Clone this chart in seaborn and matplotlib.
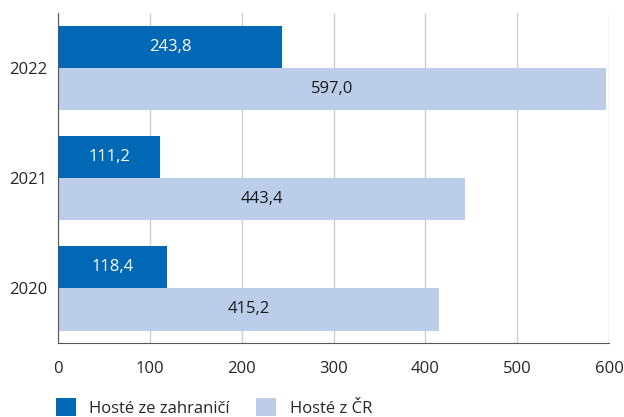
import matplotlib
matplotlib.use("Agg")
import matplotlib.pyplot as plt
import seaborn as sns
import pandas as pd

years = ["2022", "2021", "2020"]
series_names = ["Hosté ze zahraničí", "Hosté z ČR"]
foreign = [243.8, 111.2, 118.4]
domestic = [597.0, 443.4, 415.2]
x_ticks = [0, 100, 200, 300, 400, 500, 600]

colors = ["#0068B4", "#BCCDEA"]

df = pd.DataFrame({
    "rok": years * 2,
    "skupina": [series_names[0]] * 3 + [series_names[1]] * 3,
    "hodnota": foreign + domestic,
})

sns.set_style("white")
plt.rcParams["font.family"] = ["Open Sans", "DejaVu Sans"]

fig = plt.figure(figsize=(6.24, 4.17), dpi=100)
ax = fig.add_axes([0.093, 0.177, 0.883, 0.792])

sns.barplot(
    data=df,
    x="hodnota",
    y="rok",
    hue="skupina",
    orient="h",
    palette=colors,
    saturation=1,
    width=0.77,
    gap=0,
    linewidth=0,
    ax=ax,
    legend=True,
)

# popisky hodnot uprostred sloupcu, desetinna carka
for i, container in enumerate(ax.containers):
    vals = foreign if i == 0 else domestic
    labels = [f"{v:.1f}".replace(".", ",") for v in vals]
    ax.bar_label(
        container,
        labels=labels,
        label_type="center",
        color="white" if i == 0 else "#1a1a1a",
        fontsize=12,
    )

ax.set_xlim(0, 600)
ax.set_xticks(x_ticks)
ax.set_xticklabels([str(t) for t in x_ticks], fontsize=12)
ax.set_ylim(2.5, -0.5)
ax.tick_params(axis="y", length=0, labelsize=12, pad=8)
ax.tick_params(axis="x", direction="out", length=5, color="#555555", pad=8)
ax.xaxis.grid(True, color="#D0D0D0", linewidth=1)
ax.set_axisbelow(True)
ax.set_xlabel("")
ax.set_ylabel("")

for side in ["top", "right"]:
    ax.spines[side].set_visible(False)
ax.spines["left"].set_color("#555555")
ax.spines["bottom"].set_color("#555555")

handles, labels = ax.get_legend_handles_labels()
ax.get_legend().remove()
fig.legend(
    handles,
    labels,
    loc="lower left",
    bbox_to_anchor=(0.065, -0.035),
    ncol=2,
    frameon=False,
    fontsize=12,
    handlelength=1.2,
    handleheight=1.2,
    columnspacing=1.6,
    handletextpad=0.8,
)

fig.savefig("out.png", dpi=100)
